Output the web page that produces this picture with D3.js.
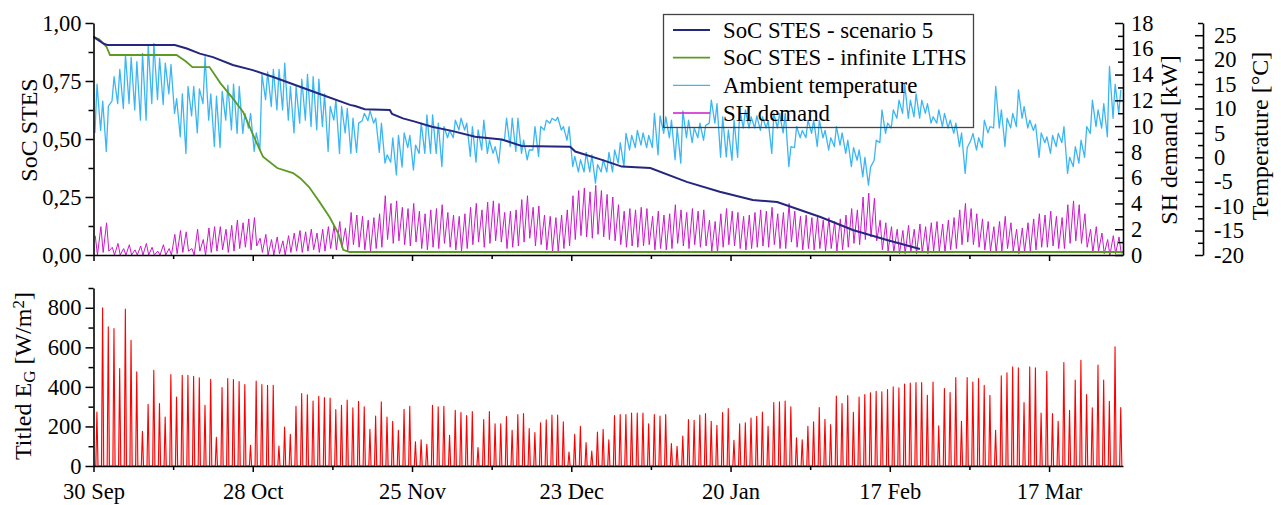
<!DOCTYPE html>
<html>
<head>
<meta charset="utf-8">
<script src="https://cdn.jsdelivr.net/npm/d3@7"></script>
<style>
  html, body { margin: 0; padding: 0; background: #fff; }
  svg { display: block; font-family: "Liberation Serif", "Times New Roman", serif; }
</style>
</head>
<body>
<svg id="chart" width="1281" height="505"></svg>
<script>
// ---------- data ----------
// Storage state of charge, breakpoints as [day since 30 Sep, SoC]
const socScenario5 = [
  [0, 0.94], [1.7, 0.912], [2.4, 0.905], [14.3, 0.905], [16.4, 0.89], [18.7, 0.868],
  [21, 0.853], [24.5, 0.819], [28, 0.797], [31.6, 0.767], [36.3, 0.725], [39.8, 0.694],
  [45.1, 0.647], [46, 0.642], [47.7, 0.628], [52.1, 0.625], [52.5, 0.608], [54.4, 0.589],
  [56.5, 0.575], [59.5, 0.553], [63, 0.535], [67.1, 0.51], [71.8, 0.498], [75.3, 0.47],
  [83.8, 0.467], [84.7, 0.446], [89.4, 0.41], [92.9, 0.381], [97.9, 0.375], [104.3, 0.315],
  [110.1, 0.273], [115.9, 0.237], [120.2, 0.228], [127.8, 0.164], [133.5, 0.108],
  [139.5, 0.065], [145.3, 0.026]
];
const socInfinite = [
  [0, 0.94], [1.0, 0.93], [2.3, 0.897], [2.9, 0.862], [14.6, 0.862], [16.2, 0.835],
  [17.4, 0.81], [20.4, 0.81], [22.3, 0.741], [24.5, 0.675], [26.3, 0.617], [28.7, 0.482],
  [29.8, 0.424], [32.3, 0.375], [35.1, 0.353], [36.4, 0.33], [37.9, 0.293], [39.7, 0.23],
  [41.5, 0.164], [43, 0.095], [43.9, 0.022], [45, 0.013], [181, 0.013]
];

// Ambient temperature, daily minimum and maximum [°C]
const tempMin = [
  5, 5.5, 1.2, 11.5, 11, 10, 11, 9.7, 7.6, 7.6,
  11, 11.8, 10.8, 13, 9, 4.2, 0.8, 8.5, 5, 11,
  7.6, 2.2, 2, 7.6, 5.6, 4.9, 4.9, 6, 1.2, 1.5,
  11.8, 10.4, 9.7, 9.7, 7.6, 5, 7, 7.6, 6.3, 5.6,
  6.3, 1.2, 7.6, 0.8, 5, 0.8, 1, 7.5, 7.5, 7,
  1, -1.2, -1, -3.6, -2, 2, -2.6, 0.8, 0.8, 0.8,
  0.8, -1.9, 4, 4, 5.6, 5.6, 0.2, -1, 1.5, 0.8,
  0.8, -1.2, 3.5, 2.2, 1.2, 0.8, -0.5, 1.5, 0.2, 5.6,
  7, 7.5, 5.6, 3.5, -1.9, -3, -3, -3, -5.3, -3,
  -3, -3, -1.2, -1.9, 1.5, 2, 2.5, 2, 2, 0.5,
  4.9, 4, -0.5, -1.2, 4, 3, 4, 3.5, 7, 7,
  0, 0.1, -0.6, 0, 6, 6, 6, 5.5, 6, 0.8,
  6, 5, -1.9, 2, 4, 4, 4.9, 2.2, 4, 1.5,
  2.2, 2.5, 0.8, -1.9, -0.6, -4, -5.7, -0.6, 3, 4.9,
  6, 8, 9, 8, 8.3, 8, 9, 7, 7, 6.3,
  6, 4.9, 2.2, -3.3, 3.5, 1.5, 2, 5, 6, 6,
  2.2, 6, 6.3, 8, 6, 5.5, 0, 3, 0.8, 2.2,
  3, -3.3, -1.9, -1.2, 0, 4.9, 6.3, 6, 4.2, 8,
  9
];
const tempMax = [
  15, 11.5, 10.5, 16.5, 18, 21, 20.5, 19.6, 21.3, 23,
  23.3, 20.3, 19.3, 19, 12, 13, 14.5, 14.5, 14, 20.6,
  13, 12.5, 13.5, 14.8, 15, 14.5, 9, 9, 5, 17,
  17.5, 18, 18, 19.3, 14.5, 14.5, 16, 17, 16.5, 16,
  13, 10.4, 11.8, 10.4, 10, 8, 7, 9, 9.5, 8,
  7, 0.5, 4, 4.5, 5, 4.5, 2.5, 7, 8.7, 8.7,
  7, 6.3, 5.5, 7.6, 8, 7, 6.3, 5.6, 7.6, 3.5,
  2.2, 3.5, 8, 8, 8, 3.5, 1.5, 6.3, 6.3, 7.6,
  8, 8.2, 6.3, 6.3, 0.2, -0.5, 1, 0.5, -1.5, -0.5,
  1, 1.5, 3, 4.9, 4.5, 5.5, 5, 4.5, 9, 8.5,
  8.3, 7.6, 6, 9.5, 7.6, 6, 7, 6.5, 11.7, 11,
  8.3, 5.6, 7.6, 9.7, 9.7, 8.3, 8.5, 8.3, 7.5, 9,
  9, 9, 2.2, 6.3, 5.5, 7.6, 7.6, 7.6, 5.5, 4,
  6.3, 5, 3.5, 2, 1.5, 0, -2, 3.5, 9.7, 7,
  9.7, 11.7, 15, 11.7, 13, 11.7, 11, 8.3, 9.7, 9,
  7.6, 7, 5, 2, 4.9, 4, 7.6, 6.3, 14.5, 9.7,
  8, 9, 13.8, 10.4, 7.6, 6.8, 5, 4.2, 4.5, 4.9,
  6.3, 0, 2.2, 3.5, 6.3, 11.7, 9.7, 11, 18.6, 15,
  13.8
];

// Space heating demand, daily peak and trough [kW]
const shPeak = [
  1.5, 2.2, 2.5, 0.6, 0.9, 0.5, 0.8, 0.4, 0.7, 0.9,
  0.6, 0.3, 0.8, 0.5, 1.6, 1.9, 1.8, 0.5, 2.0, 1.2,
  2.1, 2.2, 2.2, 2.0, 2.3, 2.7, 2.5, 2.8, 2.9, 1.3,
  1.6, 1.2, 1.4, 1.1, 1.5, 1.7, 1.9, 1.8, 2.0, 1.7,
  2.0, 2.2, 2.3, 2.6, 2.1, 3.3, 3.1, 3.0, 2.7, 2.9,
  3.2, 4.6, 4.0, 4.2, 3.7, 3.6, 4.0, 3.4, 3.2, 3.5,
  3.6, 3.9, 3.3, 3.1, 3.0, 3.2, 3.7, 4.0, 3.5, 4.1,
  4.2, 4.0, 3.3, 3.4, 3.5, 4.3, 4.6, 3.7, 3.8, 3.1,
  3.0, 2.9, 3.1, 3.5, 4.6, 5.0, 5.2, 4.9, 5.4, 5.0,
  4.7, 4.5, 3.9, 3.4, 3.6, 3.5, 3.7, 3.6, 3.0, 3.4,
  3.1, 3.2, 3.9, 3.5, 3.3, 3.6, 3.4, 3.5, 2.7, 2.6,
  3.2, 3.6, 3.4, 3.3, 3.0, 3.1, 3.3, 3.5, 3.4, 3.7,
  3.2, 3.3, 4.0, 3.4, 3.0, 3.1, 2.9, 3.0, 2.7, 2.9,
  2.6, 2.8, 3.1, 3.6, 3.5, 4.5, 4.8, 4.4, 2.7, 2.5,
  2.2, 2.0, 1.9, 2.3, 2.0, 2.4, 2.2, 2.5, 2.6, 2.4,
  2.7, 2.9, 3.5, 4.0, 3.6, 3.2, 2.8, 2.6, 2.2, 2.6,
  3.0, 2.5, 2.0, 2.1, 2.5, 2.8, 3.2, 3.1, 3.4, 3.0,
  2.9, 3.9, 4.2, 3.9, 3.2, 2.0, 2.2, 1.7, 1.2, 1.5,
  1.4
];
const shLow = [
  0, 0.2, 0.3, 0, 0, 0, 0, 0, 0, 0,
  0, 0, 0, 0, 0.1, 0.2, 0.3, 0, 0.3, 0,
  0.2, 0.3, 0.4, 0.2, 0.3, 0.5, 0.6, 0.4, 0.7, 0.2,
  0, 0, 0.1, 0, 0.2, 0.3, 0.2, 0.3, 0.4, 0.2,
  0.3, 0.5, 0.4, 0.6, 0.3, 0.8, 0.6, 0.4, 0.3, 0.5,
  0.6, 1.2, 0.9, 1.1, 0.8, 0.7, 1.0, 0.5, 0.4, 0.6,
  0.5, 0.9, 0.6, 0.4, 0.3, 0.5, 0.8, 1.0, 0.6, 0.9,
  1.1, 1.0, 0.5, 0.6, 0.7, 1.0, 1.3, 0.7, 0.8, 0.4,
  0.3, 0.3, 0.5, 0.7, 1.2, 1.5, 1.4, 1.3, 1.6, 1.4,
  1.2, 1.1, 0.8, 0.6, 0.7, 0.6, 0.7, 0.8, 0.4, 0.5,
  0.4, 0.5, 0.9, 0.7, 0.5, 0.8, 0.6, 0.7, 0.3, 0.2,
  0.6, 0.8, 0.7, 0.5, 0.4, 0.5, 0.6, 0.7, 0.6, 0.8,
  0.5, 0.5, 1.0, 0.6, 0.4, 0.5, 0.4, 0.5, 0.3, 0.5,
  0.3, 0.4, 0.6, 0.9, 0.8, 1.2, 1.4, 1.1, 0.4, 0.3,
  0.2, 0.1, 0.1, 0.2, 0.1, 0.2, 0.1, 0.3, 0.3, 0.2,
  0.4, 0.5, 0.8, 1.0, 0.8, 0.6, 0.4, 0.3, 0.2, 0.3,
  0.5, 0.3, 0.1, 0.2, 0.3, 0.4, 0.6, 0.6, 0.7, 0.5,
  0.5, 0.9, 1.1, 0.9, 0.6, 0.2, 0.3, 0.1, 0, 0.1,
  0.1
];

// Tilted global irradiance, daily peak [W/m2]
const egPeak = [
  273, 800, 704, 695, 493, 793, 636, 476, 175, 312,
  484, 316, 248, 462, 349, 459, 459, 454, 446, 307,
  439, 145, 397, 442, 437, 427, 412, 105, 429, 412,
  408, 408, 101, 197, 160, 302, 366, 360, 328, 353,
  346, 343, 285, 307, 333, 294, 327, 299, 186, 253,
  324, 248, 226, 181, 287, 302, 122, 133, 110, 307,
  299, 302, 155, 282, 270, 255, 275, 93, 235, 275,
  214, 214, 250, 181, 260, 265, 189, 169, 218, 233,
  257, 257, 223, 71, 160, 201, 118, 76, 172, 186,
  133, 255, 260, 260, 268, 268, 268, 214, 260, 253,
  260, 113, 100, 152, 235, 231, 257, 265, 226, 206,
  270, 290, 130, 214, 218, 243, 251, 273, 201, 321,
  324, 329, 299, 143, 133, 201, 223, 295, 236, 209,
  354, 316, 356, 272, 349, 361, 370, 378, 375, 387,
  400, 395, 414, 420, 422, 422, 358, 425, 203, 392,
  371, 447, 226, 447, 425, 442, 408, 358, 181, 456,
  471, 501, 496, 321, 501, 496, 268, 479, 265, 226,
  523, 282, 434, 535, 361, 294, 511, 434, 327, 603,
  295
];

const xTickLabels = ["30 Sep", "28 Oct", "25 Nov", "23 Dec", "20 Jan", "17 Feb", "17 Mar"];
const socTicks = [0, 0.25, 0.5, 0.75, 1];
const socTickLabels = ["0,00", "0,25", "0,50", "0,75", "1,00"];
const shTicks = [0, 2, 4, 6, 8, 10, 12, 14, 16, 18];
const tempTicks = [-20, -15, -10, -5, 0, 5, 10, 15, 20, 25];
const egTicks = [0, 200, 400, 600, 800];

const legendItems = [
  { label: "SoC STES - scenario 5", color: "#25267f", width: 2 },
  { label: "SoC STES - infinite LTHS", color: "#5b9b22", width: 1.8 },
  { label: "Ambient temperature", color: "#3ab6f6", width: 1.4 },
  { label: "SH demand", color: "#cc19cc", width: 1.4 }
];

// ---------- scales ----------
const DAY = 864e5;
const t0 = Date.UTC(2018, 8, 30);
const at = d => new Date(t0 + d * DAY);
const nDays = 181;

const x = d3.scaleUtc().domain([at(0), at(nDays)]).range([93.5, 1123]);
const ySoc = d3.scaleLinear().domain([0, 1]).range([255, 23]);
const ySh = d3.scaleLinear().domain([0, 18]).range([255, 23]);
const yTemp = d3.scaleLinear().domain([-20, 27.5]).range([255, 23]);
const yEg = d3.scaleLinear().domain([0, 900]).range([466, 288]);

const svg = d3.select("#chart");
const FONT_TICK = "22.5px";
const FONT_TITLE = "24px";

// ---------- series ----------
const tempPts = [];
tempMin.forEach((v, i) => {
  tempPts.push([at(i + 0.25), v]);
  tempPts.push([at(i + 0.62), tempMax[i]]);
});
const shPts = [];
shPeak.forEach((v, i) => {
  shPts.push([at(i + 0.3), v]);
  shPts.push([at(i + 0.7), shLow[i]]);
});
const egPts = [[at(0), 0]];
egPeak.forEach((v, i) => {
  egPts.push([at(i + 0.4), 0]);
  egPts.push([at(i + 0.6), v]);
  egPts.push([at(i + 0.8), 0]);
});

const lineOn = (y) => d3.line().x(p => x(p[0])).y(p => y(p[1]));
const dayLine = (y) => d3.line().x(p => x(at(p[0]))).y(p => y(p[1]));

const topPanel = svg.append("g");
topPanel.append("path").attr("d", lineOn(ySh)(shPts))
  .attr("fill", "none").attr("stroke", legendItems[3].color).attr("stroke-width", 1)
  .attr("stroke-linejoin", "round");
topPanel.append("path").attr("d", lineOn(yTemp)(tempPts))
  .attr("fill", "none").attr("stroke", legendItems[2].color).attr("stroke-width", 1.3)
  .attr("stroke-linejoin", "round");
topPanel.append("path").attr("d", dayLine(ySoc)(socInfinite))
  .attr("fill", "none").attr("stroke", legendItems[1].color).attr("stroke-width", 1.8);
topPanel.append("path").attr("d", dayLine(ySoc)(socScenario5))
  .attr("fill", "none").attr("stroke", legendItems[0].color).attr("stroke-width", 2);

const bottomPanel = svg.append("g");
bottomPanel.append("path").attr("d", lineOn(yEg)(egPts))
  .attr("fill", "#ff8080").attr("fill-opacity", 0.35)
  .attr("stroke", "#ff0000").attr("stroke-width", 1.1).attr("stroke-linejoin", "round");

// ---------- axes ----------
function styleAxis(g) {
  g.select(".domain").attr("stroke", "#000").attr("stroke-width", 1.6);
  g.selectAll(".tick line").attr("stroke", "#000").attr("stroke-width", 1.5);
  g.selectAll(".tick text").attr("fill", "#000")
    .style("font-size", FONT_TICK).style("font-family", "'Liberation Serif', serif");
  g.attr("font-size", null).attr("font-family", null);
}
function minorAxis(axis, values, size) {
  return axis.tickValues(values).tickFormat("").tickSize(size);
}

const xMajor = xTickLabels.map((_, i) => at(28 * i));
const xMinor = d3.range(0, 7).map(i => at(14 + 28 * i)).filter(d => d <= at(nDays));
const labelOf = new Map(xMajor.map((d, i) => [+d, xTickLabels[i]]));

// top panel x axis (no labels)
svg.append("g").attr("transform", "translate(0,255)")
  .call(d3.axisBottom(x).tickValues(xMajor).tickFormat("").tickSize(6).tickSizeOuter(0))
  .call(styleAxis);
svg.append("g").attr("transform", "translate(0,255)")
  .call(minorAxis(d3.axisBottom(x), xMinor, 4)).call(g => g.select(".domain").remove())
  .call(styleAxis);

// bottom panel x axis
svg.append("g").attr("transform", "translate(0,466)")
  .call(d3.axisBottom(x).tickValues(xMajor).tickFormat(d => labelOf.get(+d))
    .tickSize(6).tickPadding(11).tickSizeOuter(0))
  .call(styleAxis);
svg.append("g").attr("transform", "translate(0,466)")
  .call(minorAxis(d3.axisBottom(x), xMinor, 4)).call(g => g.select(".domain").remove())
  .call(styleAxis);

// SoC axis
svg.append("g").attr("transform", "translate(93.5,0)")
  .call(d3.axisLeft(ySoc).tickValues(socTicks).tickFormat((d, i) => socTickLabels[i])
    .tickSize(8).tickPadding(4).tickSizeOuter(0))
  .call(styleAxis);
svg.append("g").attr("transform", "translate(93.5,0)")
  .call(minorAxis(d3.axisLeft(ySoc), socTicks.slice(0, -1).map(v => v + 0.125), 5))
  .call(g => g.select(".domain").remove()).call(styleAxis);

// SH demand axis (ticks point inwards)
svg.append("g").attr("transform", "translate(1123,0)")
  .call(d3.axisRight(ySh).tickValues(shTicks).tickFormat(d => String(d))
    .tickSizeInner(-8).tickSizeOuter(0).tickPadding(8))
  .call(styleAxis);
svg.append("g").attr("transform", "translate(1123,0)")
  .call(minorAxis(d3.axisRight(ySh), shTicks.slice(0, -1).map(v => v + 1), -5))
  .call(g => g.select(".domain").remove()).call(styleAxis);

// Temperature axis (offset, ticks point left)
svg.append("g").attr("transform", "translate(1203,0)")
  .call(d3.axisRight(yTemp).tickValues(tempTicks).tickFormat(d => String(d))
    .tickSizeInner(-8).tickSizeOuter(0).tickPadding(11))
  .call(styleAxis);
svg.append("g").attr("transform", "translate(1203,0)")
  .call(minorAxis(d3.axisRight(yTemp), tempTicks.map(v => v + 2.5), -5))
  .call(g => g.select(".domain").remove()).call(styleAxis);

// Irradiance axis
svg.append("g").attr("transform", "translate(93.5,0)")
  .call(d3.axisLeft(yEg).tickValues(egTicks).tickFormat(d => String(d))
    .tickSize(8).tickPadding(4).tickSizeOuter(0))
  .call(styleAxis);
svg.append("g").attr("transform", "translate(93.5,0)")
  .call(minorAxis(d3.axisLeft(yEg), egTicks.map(v => v + 100), 5))
  .call(g => g.select(".domain").remove()).call(styleAxis);

// ---------- axis titles ----------
function vTitle(xPos, yPos) {
  return svg.append("text")
    .attr("transform", `translate(${xPos},${yPos}) rotate(-90)`)
    .attr("text-anchor", "middle").style("font-size", FONT_TITLE).attr("fill", "#000");
}
vTitle(37, 130).text("SoC STES");
vTitle(1177, 140).text("SH demand [kW]");
vTitle(1268, 136).text("Temperature [°C]");
const egTitle = vTitle(31, 376);
egTitle.append("tspan").text("Titled E");
egTitle.append("tspan").attr("baseline-shift", "-25%").style("font-size", "17px").text("G");
egTitle.append("tspan").text(" [W/m");
egTitle.append("tspan").attr("baseline-shift", "40%").style("font-size", "17px").text("2");
egTitle.append("tspan").text("]");

// ---------- legend ----------
const legend = svg.append("g");
legend.append("rect").attr("x", 663.5).attr("y", 14.5).attr("width", 310).attr("height", 113)
  .attr("fill", "none").attr("stroke", "#444").attr("stroke-width", 1.3);
const rowY = d3.scalePoint().domain(legendItems.map(d => d.label)).range([30, 113]);
legendItems.forEach(item => {
  const yy = rowY(item.label);
  legend.append("line").attr("x1", 673).attr("x2", 710).attr("y1", yy).attr("y2", yy)
    .attr("stroke", item.color).attr("stroke-width", item.width);
  legend.append("text").attr("x", 723).attr("y", yy).attr("dy", "0.34em")
    .style("font-size", "22.8px").attr("fill", "#000").text(item.label);
});
</script>
</body>
</html>
